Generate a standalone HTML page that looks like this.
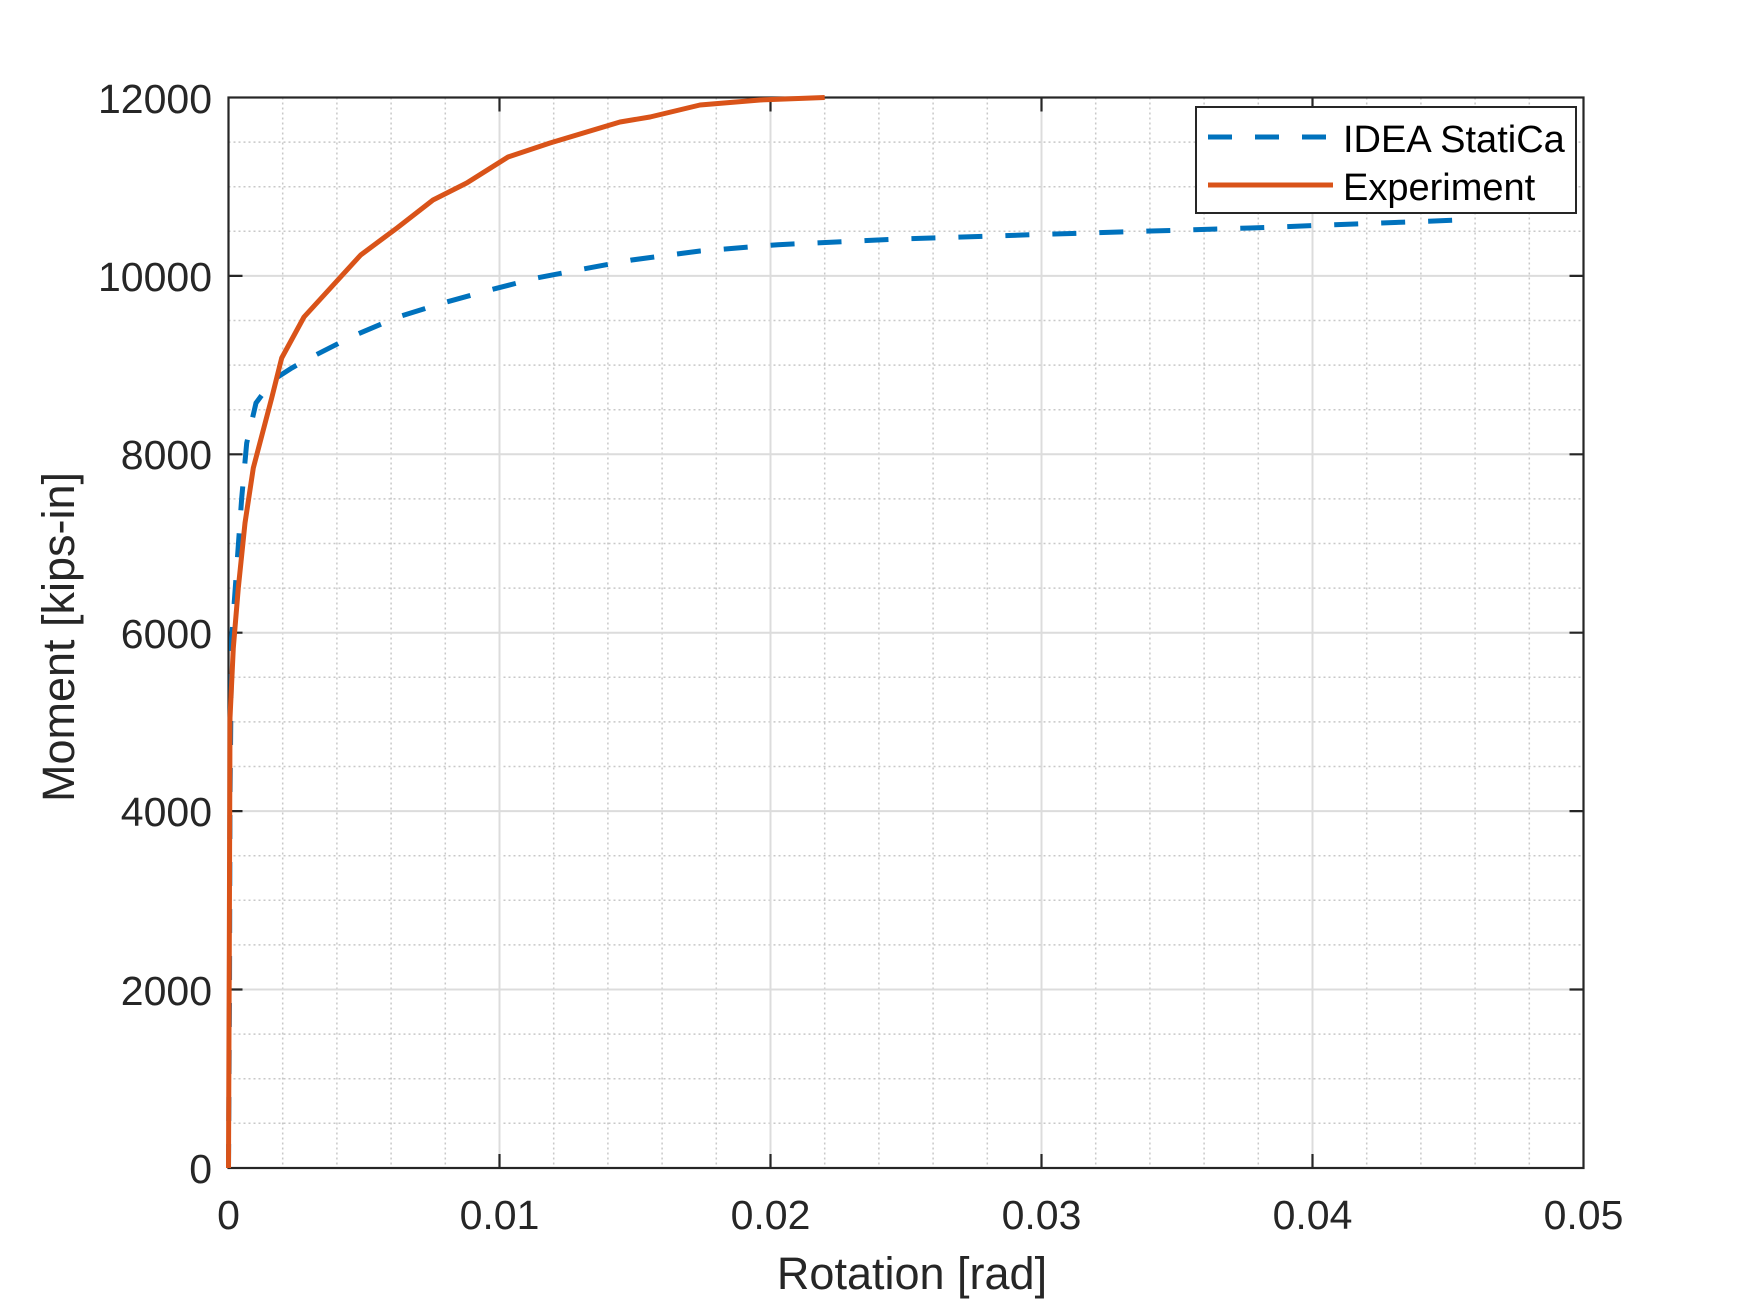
<!DOCTYPE html>
<html><head><meta charset="utf-8"><style>
html,body{margin:0;padding:0;background:#fff;}
svg{display:block;font-family:"Liberation Sans",Arial,sans-serif;}
</style></head><body>
<svg width="1750" height="1313" viewBox="0 0 1750 1313">
<rect width="1750" height="1313" fill="#fff"/>
<g stroke="#c8c8c8" stroke-width="1.5" stroke-dasharray="2,3">
<path d="M282.7 97.5V1168M336.9 97.5V1168M391.1 97.5V1168M445.3 97.5V1168M553.7 97.5V1168M607.9 97.5V1168M662.1 97.5V1168M716.3 97.5V1168M824.7 97.5V1168M878.9 97.5V1168M933.1 97.5V1168M987.3 97.5V1168M1095.7 97.5V1168M1149.9 97.5V1168M1204.1 97.5V1168M1258.3 97.5V1168M1366.7 97.5V1168M1420.9 97.5V1168M1475.1 97.5V1168M1529.3 97.5V1168"/>
<path d="M228.5 142.1H1583.5M228.5 186.7H1583.5M228.5 231.3H1583.5M228.5 320.5H1583.5M228.5 365.1H1583.5M228.5 409.7H1583.5M228.5 498.9H1583.5M228.5 543.5H1583.5M228.5 588.1H1583.5M228.5 677.3H1583.5M228.5 721.9H1583.5M228.5 766.5H1583.5M228.5 855.7H1583.5M228.5 900.3H1583.5M228.5 944.9H1583.5M228.5 1034.1H1583.5M228.5 1078.7H1583.5M228.5 1123.3H1583.5"/>
</g>
<g stroke="#dcdcdc" stroke-width="2">
<path d="M499.5 97.5V1168M770.5 97.5V1168M1041.5 97.5V1168M1312.5 97.5V1168"/>
<path d="M228.5 275.9H1583.5M228.5 454.3H1583.5M228.5 632.7H1583.5M228.5 811.1H1583.5M228.5 989.5H1583.5"/>
</g>
<g stroke="#262626" stroke-width="2.2" fill="none">
<rect x="228.5" y="97.5" width="1355" height="1070.5"/>
<path d="M499.5 1168v-14M770.5 1168v-14M1041.5 1168v-14M1312.5 1168v-14M499.5 97.5v14M770.5 97.5v14M1041.5 97.5v14M1312.5 97.5v14"/>
<path d="M228.5 275.9h14M228.5 454.3h14M228.5 632.7h14M228.5 811.1h14M228.5 989.5h14M1583.5 275.9h-14M1583.5 454.3h-14M1583.5 632.7h-14M1583.5 811.1h-14M1583.5 989.5h-14"/>
</g>
<polyline fill="none" stroke="#0072bd" stroke-width="5" stroke-dasharray="24,23" points="228.5,1168 229.5,1000 230,800 231,700 231.7,638 236.7,568 241.7,498 246.7,443 256,403 273,380 291.7,368 311.7,357 353,336 398,317 443,303 490,290 536.7,278 583,269 631.7,260 700,251 778,244.7 900,239 1054,234 1250,228 1460,220"/>
<polyline fill="none" stroke="#d95319" stroke-width="5" stroke-linejoin="round" points="228.5,1168 229.3,947 230,718 233.3,648 238.3,588 245,523 253.3,468 271.7,398 281.7,358 304,317 360.7,255 397,228 433,200 466.7,183 508,157 550,143 620,122 650,117 700,105 760,100 824.7,97.5"/>
<rect x="1196" y="107" width="380" height="106" fill="#fff" stroke="#262626" stroke-width="2"/>
<line x1="1208" y1="137" x2="1332" y2="137" stroke="#0072bd" stroke-width="5" stroke-dasharray="24,23"/>
<line x1="1208" y1="185" x2="1333" y2="185" stroke="#d95319" stroke-width="5"/>
<g font-size="38" fill="#000">
<text x="1343" y="152">IDEA StatiCa</text>
<text x="1343" y="200">Experiment</text>
</g>
<g font-size="41" fill="#262626" text-anchor="end">
<text x="212" y="113">12000</text>
<text x="212" y="291">10000</text>
<text x="212" y="469">8000</text>
<text x="212" y="648">6000</text>
<text x="212" y="826">4000</text>
<text x="212" y="1005">2000</text>
<text x="212" y="1183">0</text>
</g>
<g font-size="41" fill="#262626" text-anchor="middle">
<text x="228.5" y="1229">0</text>
<text x="499.5" y="1229">0.01</text>
<text x="770.5" y="1229">0.02</text>
<text x="1041.5" y="1229">0.03</text>
<text x="1312.5" y="1229">0.04</text>
<text x="1583.5" y="1229">0.05</text>
</g>
<text x="912" y="1289" font-size="45" fill="#262626" text-anchor="middle">Rotation [rad]</text>
<text transform="translate(74,637) rotate(-90)" font-size="45" fill="#262626" text-anchor="middle">Moment [kips-in]</text>
</svg>
</body></html>
